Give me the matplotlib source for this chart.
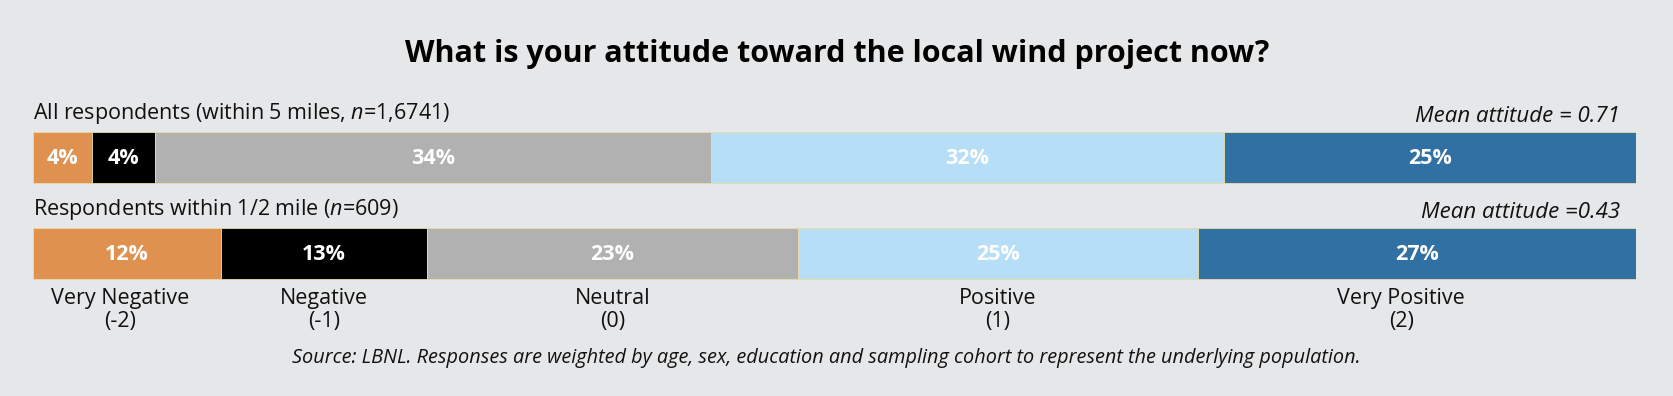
import matplotlib.pyplot as plt
import numpy as np

# response categories
categories = ["Very Negative\n(-2)", "Negative\n(-1)", "Neutral\n(0)", "Positive\n(1)", "Very Positive\n(2)"]
colors = ["#df914f", "#000000", "#b1b1b1", "#b6def6", "#3170a2"]

# shares (bar widths) and printed labels
all_shares = [3.7, 3.9, 34.7, 32.0, 25.7]
all_labels = ["4%", "4%", "34%", "32%", "25%"]
near_shares = [11.7, 12.9, 23.1, 25.0, 27.3]
near_labels = ["12%", "13%", "23%", "25%", "27%"]

groups = ["All respondents (within 5 miles, $\\it{n}$=1,6741)",
          "Respondents within 1/2 mile ($\\it{n}$=609)"]
means = ["Mean attitude = 0.71", "Mean attitude =0.43"]

W, H = 1674, 396
bg = "#e6e7e8"
plt.rcParams['font.family'] = ['Open Sans', 'DejaVu Sans']
plt.rcParams['mathtext.fontset'] = 'custom'
plt.rcParams['mathtext.it'] = 'Open Sans:italic'
plt.rcParams['mathtext.rm'] = 'Open Sans'

fig = plt.figure(figsize=(W / 100, H / 100), dpi=100, facecolor=bg)
left_px, right_px = 33, 1636
ax = fig.add_axes([left_px / W, 0, (right_px - left_px) / W, 1])
ax.set_facecolor(bg)
ax.set_xlim(0, 100)
ax.set_ylim(H, 0)
ax.axis("off")

bar_y = [157, 253]
bar_h = 51

for y, shares, labels in [(bar_y[0], all_shares, all_labels), (bar_y[1], near_shares, near_labels)]:
    starts = np.concatenate(([0], np.cumsum(shares)[:-1]))
    ax.barh(y, shares, left=starts, height=bar_h, color=colors,
            edgecolor="#e8dca8", linewidth=0.6)
    for s, w, lab in zip(starts, shares, labels):
        ax.text(s + w / 2, y + 1, lab, ha="center", va="center", color="white",
                fontsize=15.5, fontweight="bold")

# group headings and means
for y, g, m in zip(bar_y, groups, means):
    ax.text(0, y - bar_h / 2 - 5, g, ha="left", va="bottom", fontsize=15.5, color="#111111")
    fig.text(1620 / W, 1 - (y - bar_h / 2 - 5) / H, m, ha="right", va="bottom",
             fontsize=16, style="italic", color="#111111")

# category labels under lower bar (outer ones pulled in a little)
starts = np.concatenate(([0], np.cumsum(near_shares)[:-1]))
nudge = [-0.4, 0, 0, 0, -1.0]
for s, w, c, d in zip(starts, near_shares, categories, nudge):
    ax.text(s + w / 2 + d, 288, c, ha="center", va="top", fontsize=15.5,
            color="#111111", linespacing=1.15)

fig.text(0.5, 1 - 54 / H, "What is your attitude toward the local wind project now?",
         ha="center", va="center", fontsize=22, fontweight="bold", color="black")
fig.text(826 / W, 1 - 358 / H,
         "Source: LBNL. Responses are weighted by age, sex, education and sampling cohort to represent the underlying population.",
         ha="center", va="center", fontsize=14.3, style="italic", color="#111111")

fig.savefig("out.png", dpi=100, facecolor=bg)
